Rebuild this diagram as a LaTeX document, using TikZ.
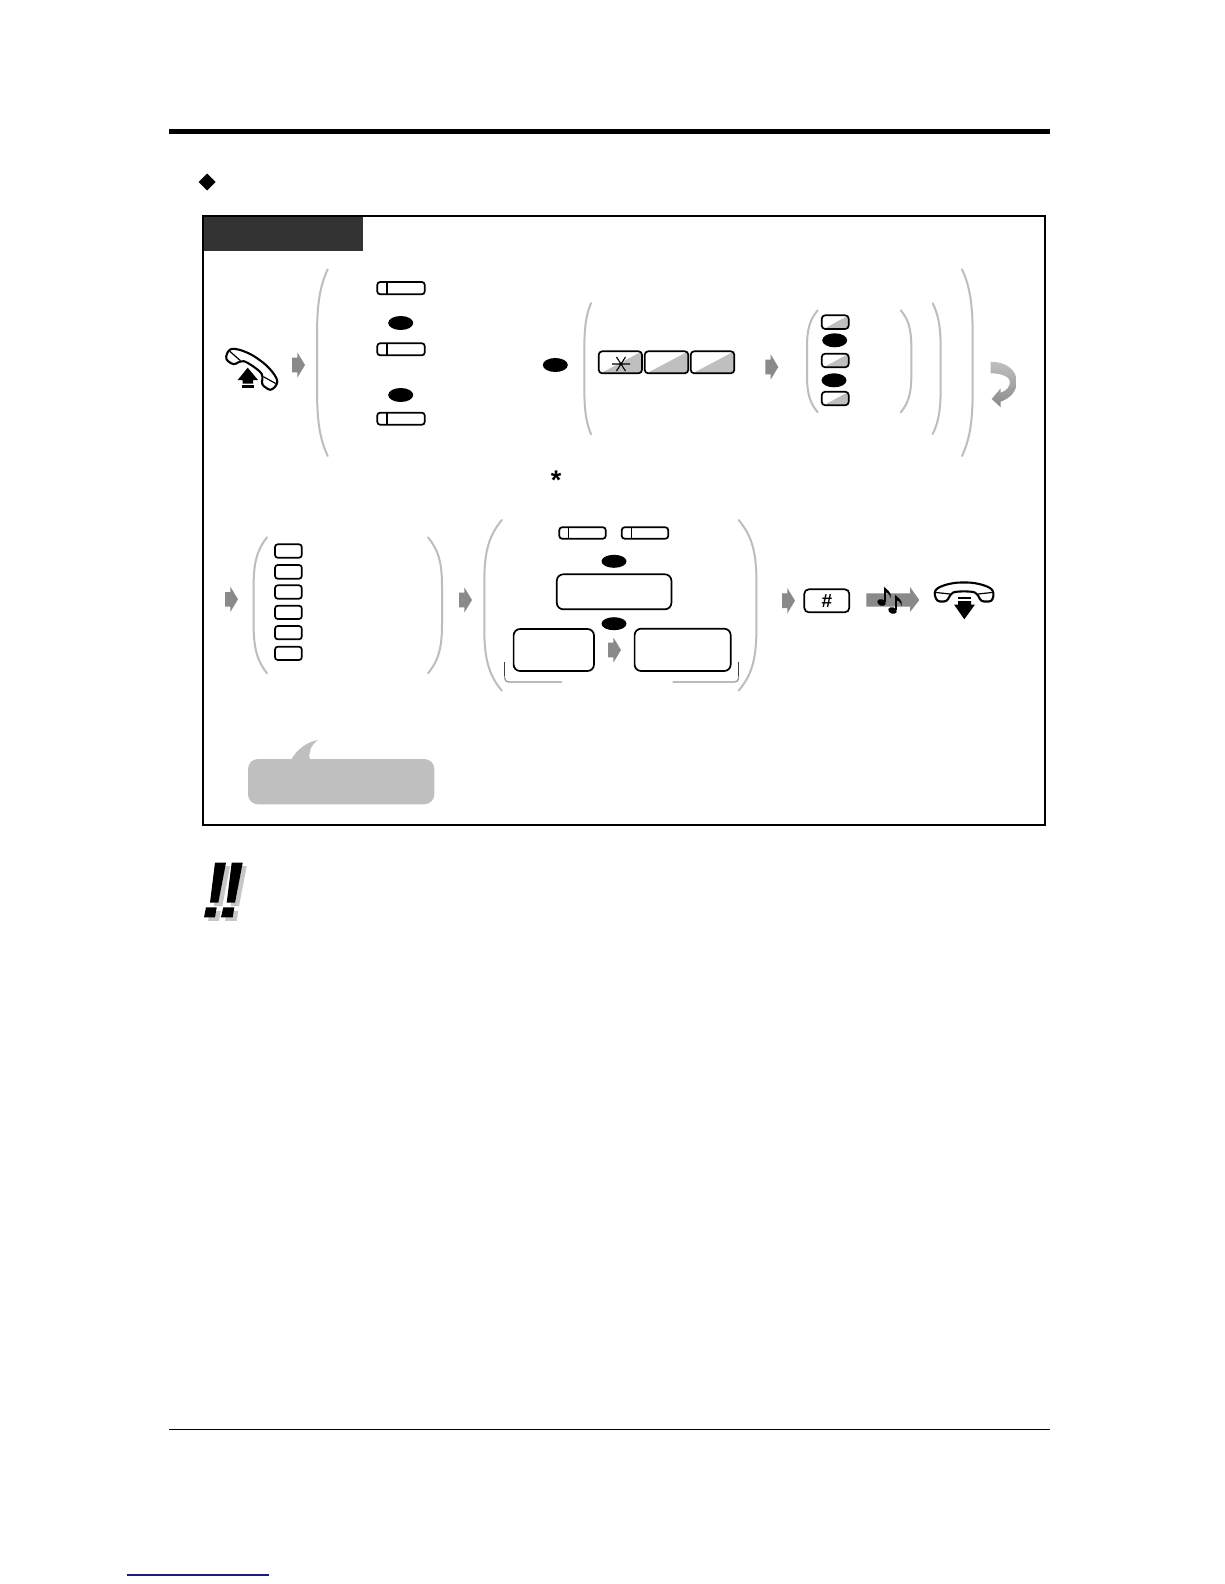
\documentclass[tikz,border=0pt]{standalone}
\usepackage{fontspec}
\setmainfont{Liberation Sans}
\usetikzlibrary{shapes.geometric}
\definecolor{brk}{HTML}{BDBDBD}
\definecolor{arrowgray}{HTML}{8A8A8A}
\definecolor{fillgray}{HTML}{BFBFBF}
\definecolor{headdark}{HTML}{333333}
\definecolor{linkblue}{HTML}{1A1A8C}
\tikzset{
  keybox/.style={draw=black,line width=1.7pt,rounded corners=2.8pt,inner sep=0pt,outer sep=0pt},
  widebox/.style={draw=black,line width=1.7pt,rounded corners=6.5pt,inner sep=0pt,outer sep=0pt},
  shaded key/.style={keybox,rounded corners=3.5pt,path picture={
    \fill[fillgray] ([xshift=2pt]path picture bounding box.south west) -- (path picture bounding box.north east) -- (path picture bounding box.south east) -- cycle;}},
  pause/.style={ellipse,fill=black,inner sep=0pt,outer sep=0pt,minimum width=25pt,minimum height=14pt},
  bracket/.style={draw=brk,line width=2pt,line cap=round},
  grayarrow/.pic={\fill[arrowgray] (0,-7.3) -- (5.3,-7.3) -- (5.3,-12.7) -- (13,0) -- (5.3,12.7) -- (5.3,7.3) -- (0,7.3) -- cycle;},
  handset/.pic={
    \draw[fill=white,line width=2.1pt,line join=round,rounded corners=3pt]
      (-27,9.5) -- (-30,1) .. controls (-26,-6) and (-12,-9.5) .. (0,-9.5) .. controls (12,-9.5) and (26,-6) .. (30,1)
      -- (28,9.5) -- (17,9.5) -- (13.5,2) .. controls (8,-1) and (-8,-1) .. (-13.5,2) -- (-17,9.5) -- cycle;
    \draw[line width=1.2pt] (-14,2) -- (-28,0.5) (14,2) -- (28,0.5);
  }
}
\newcommand{\keynode}[6]{% name x0 y0 x1 y1 style
  \pgfmathsetmacro{\kcx}{(#2+#4)/2}\pgfmathsetmacro{\kcy}{(#3+#5)/2}
  \pgfmathsetmacro{\kw}{#4-#2}\pgfmathsetmacro{\kh}{#5-#3}
  \node[#6,minimum width=\kw pt,minimum height=\kh pt] (#1) at (\kcx,\kcy) {};}
\newcommand{\linekey}[6]{% name x0 y0 x1 y1 divider
  \keynode{#1}{#2}{#3}{#4}{#5}{keybox}
  \draw[line width=1.2pt] (#6,#3) -- (#6,#5);}
\newcommand{\parenth}[4]{% xend xbulge ytop ybot
  \pgfmathsetmacro{\px}{#1+0.72*(#2-#1)}
  \pgfmathsetmacro{\pa}{#3+0.09*(#4-#3)}\pgfmathsetmacro{\pb}{#3+0.18*(#4-#3)}\pgfmathsetmacro{\pm}{#3+0.36*(#4-#3)}
  \pgfmathsetmacro{\pc}{#4-0.36*(#4-#3)}\pgfmathsetmacro{\pn}{#4-0.18*(#4-#3)}\pgfmathsetmacro{\pd}{#4-0.09*(#4-#3)}
  \draw[bracket] (#1,#3) .. controls (\px,\pa) and (#2,\pb) .. (#2,\pm) -- (#2,\pc) .. controls (#2,\pn) and (\px,\pd) .. (#1,#4);}
\begin{document}
\begin{tikzpicture}[x=1pt,y=-1pt]
\useasboundingbox (0,0) rectangle (1224,1584);
\fill[white] (0,0) rectangle (1224,1584);
% page rules
\fill[black] (169,129) rectangle (1050,134);
\draw[line width=1.4pt] (169,1429.6) -- (1050,1429.6);
\draw[linkblue,line width=1.4pt] (127,1575) -- (269,1575);
\node[diamond,fill=black,inner sep=0pt,outer sep=0pt,minimum width=17pt,minimum height=17pt] (bullet) at (207,182) {};
% frame
\fill[headdark] (203,216) rectangle (363,250.7);
\draw[line width=2pt] (202.7,215.7) rectangle (1045,825);
% row 1
\pic[rotate=-35] at (253,367) {handset};
\fill[black] (247.7,367.7) -- (258,380) -- (253,380) -- (253,383.5) -- (242.5,383.5) -- (242.5,380) -- (237.7,380) -- cycle;
\fill[black] (241.5,385) rectangle (254,387.6);
\pic at (292,365) {grayarrow};
\parenth{327.7}{317}{269.3}{456}
\linekey{ka}{377.3}{282}{424.7}{294.3}{387}
\node[pause] (pa) at (400.7,323) {};
\linekey{kb}{377.3}{343.3}{424.7}{355.3}{387}
\node[pause] (pb) at (400.7,395) {};
\linekey{kc}{377.3}{412.7}{424.7}{424.7}{387}
\node[pause] (pc) at (555.3,365) {};
\parenth{591}{584.3}{303}{434.3}
\keynode{st}{598.7}{351.3}{642}{373.3}{shaded key}
\draw[line width=1.1pt] (612,364) -- (630,364) (616.5,357) -- (625.5,371) (625.5,357) -- (616.5,371);
\keynode{sa}{644.7}{351.3}{688.3}{373.3}{shaded key}
\keynode{sb}{690.7}{351.3}{734.3}{373.3}{shaded key}
\pic at (765.3,367) {grayarrow};
\parenth{817.7}{807}{310.3}{412.3}
\keynode{da}{821.7}{315.3}{848.7}{329}{shaded key}
\node[pause] (pd) at (834.7,340.3) {};
\keynode{db}{821.7}{353.7}{848.7}{367.3}{shaded key}
\node[pause] (pe) at (834,380.3) {};
\keynode{dc}{821.7}{391.7}{848.7}{405.3}{shaded key}
\parenth{900.7}{911.3}{310.3}{412.3}
\parenth{932.7}{940.7}{303.3}{434}
\parenth{962}{972.7}{269.3}{456}
% return arrow
\shade[top color=fillgray,bottom color=arrowgray]
  (990.7,361.7) .. controls (1006,361.7) and (1016.7,370) .. (1016.7,381.7)
  .. controls (1016.7,392) and (1010,398) .. (1000.7,401.7) -- (1000.7,407.3) -- (991.7,399) -- (1000.7,388.3) -- (1000.7,392.7)
  .. controls (1006,391) and (1010,387) .. (1010,381.7) .. controls (1010,377) and (1002,373.3) .. (990.7,373.3) -- cycle;
\node[font=\bfseries\fontsize{27}{27}\selectfont,inner sep=0pt,anchor=base] (star) at (556,489) {*};
% row 2
\pic at (225,599.3) {grayarrow};
\parenth{267}{253.6}{537.3}{673.3}
\keynode{na}{275}{544.3}{301.8}{557.7}{keybox}
\keynode{nb}{275}{565}{301.8}{578.7}{keybox}
\keynode{nc}{275}{585.3}{301.8}{598.7}{keybox}
\keynode{nd}{275}{605.7}{301.8}{619}{keybox}
\keynode{ne}{275}{626}{301.8}{639.3}{keybox}
\keynode{nf}{275}{646.7}{301.8}{660}{keybox}
\parenth{428}{442}{537.3}{673.3}
\pic at (459,600) {grayarrow};
\parenth{501.8}{484.3}{520}{690.7}
\linekey{la}{559.3}{527.3}{605.7}{538.7}{568.6}
\linekey{lb}{621.8}{527.3}{668.2}{538.7}{631.4}
\node[pause,minimum height=13pt] (pf) at (614,561.3) {};
\keynode{wa}{556.8}{574.3}{671.4}{609.3}{widebox}
\node[pause,minimum height=13pt] (pg) at (614,623.7) {};
\keynode{wb}{513.6}{629}{594}{671}{widebox}
\pic at (608,650) {grayarrow};
\keynode{wc}{634.6}{628.7}{730.7}{671}{widebox}
\parenth{738.6}{756.4}{520}{690.7}
% under-brace corners
\draw[line width=1pt,black!75] (504.6,661.7) -- (504.6,678);
\draw[brk!80!black,line width=1.2pt,rounded corners=4pt] (504.6,676) -- (504.6,682) -- (561.8,682);
\draw[line width=1pt,black!75] (738.6,661.7) -- (738.6,678);
\draw[brk!80!black,line width=1.2pt,rounded corners=4pt] (672.5,682) -- (738.6,682) -- (738.6,676);
% end of row 2
\pic at (782,600.7) {grayarrow};
\node[keybox,rounded corners=4.5pt,minimum width=45pt,minimum height=23pt,font=\bfseries\fontsize{19}{19}\selectfont] (hash) at (826.8,600.8) {\#};
\fill[arrowgray] (866.3,593.3) -- (910,593.3) -- (910,587) -- (919.3,600) -- (910,612) -- (910,606.7) -- (866.3,606.7) -- cycle;
\fill[black,rotate around={-20:(881.5,602.5)}] (881.5,602.5) ellipse (4.4 and 3.2);
\draw[line width=1.8pt] (885,602) -- (885,587.5);
\fill[black] (884.2,586.5) .. controls (886,590) and (892,591) .. (890.5,598) .. controls (889.5,593.5) and (887,592.5) .. (885,592) -- cycle;
\fill[black,rotate around={-20:(892.5,610.5)}] (892.5,610.5) ellipse (4.4 and 3.2);
\draw[line width=1.8pt] (896,610) -- (896,595.5);
\fill[black] (895.2,594.5) .. controls (897,598) and (903,599) .. (901.5,606) .. controls (900.5,601.5) and (898,600.5) .. (896,600) -- cycle;
\pic at (964,592) {handset};
\fill[white] (952,597) rectangle (977,621);
\fill[black] (958,597) rectangle (971,599);
\fill[black] (958,601) -- (971,601) -- (971,604.5) -- (975,604.5) -- (964.3,619.3) -- (954,604.5) -- (958,604.5) -- cycle;
% callout
\fill[fillgray,rounded corners=10pt] (248,759) rectangle (434.3,804.3);
\fill[fillgray] (291,760) .. controls (297,749) and (307,742) .. (318,740) .. controls (311,745) and (308,752) .. (310,760) -- cycle;
% note marks
\begin{scope}[shift={(4,3.5)},fill=black!22]
\fill (215,862.7) -- (226,862.7) -- (218.3,902.7) -- (210,902.7) -- cycle;
\fill (206,907.3) -- (216.7,907.3) -- (215,917.3) -- (204,917.3) -- cycle;
\fill (231.7,862.7) -- (242.7,862.7) -- (235,902.7) -- (226.7,902.7) -- cycle;
\fill (223.3,907.3) -- (234.3,907.3) -- (232.7,917.3) -- (221,917.3) -- cycle;
\end{scope}
\fill[black] (215,862.7) -- (226,862.7) -- (218.3,902.7) -- (210,902.7) -- cycle;
\fill[black] (206,907.3) -- (216.7,907.3) -- (215,917.3) -- (204,917.3) -- cycle;
\fill[black] (231.7,862.7) -- (242.7,862.7) -- (235,902.7) -- (226.7,902.7) -- cycle;
\fill[black] (223.3,907.3) -- (234.3,907.3) -- (232.7,917.3) -- (221,917.3) -- cycle;
\end{tikzpicture}
\end{document}
